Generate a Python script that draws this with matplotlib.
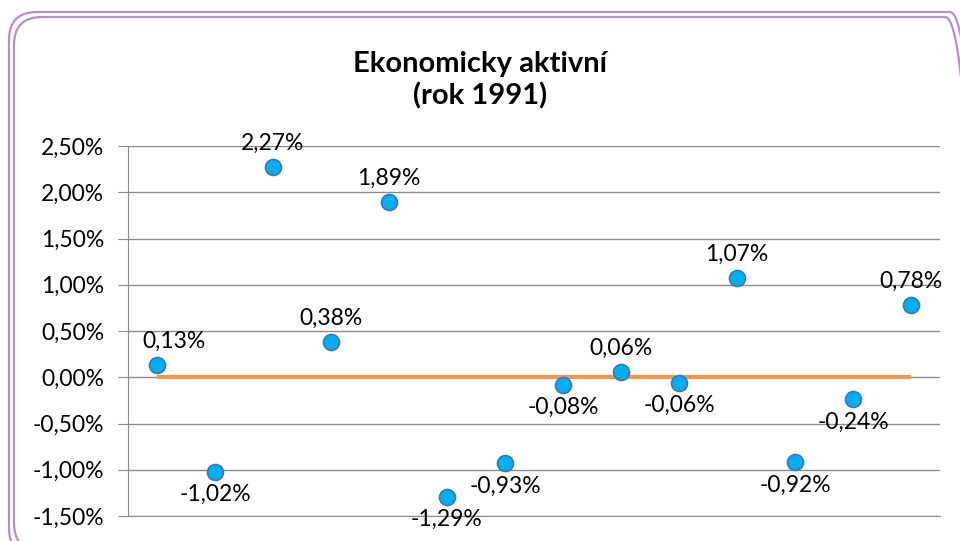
import matplotlib.pyplot as plt
from matplotlib.patches import FancyBboxPatch
from matplotlib.transforms import IdentityTransform
from matplotlib.ticker import FuncFormatter

# data
values = [0.13, -1.02, 2.27, 0.38, 1.89, -1.29, -0.93, -0.08, 0.06, -0.06, 1.07, -0.92, -0.24, 0.78]
baseline = [0.0] * len(values)
positions = list(range(1, len(values) + 1))
y_ticks = [-1.5, -1.0, -0.5, 0.0, 0.5, 1.0, 1.5, 2.0, 2.5]
title = "Ekonomicky aktivní\n(rok 1991)"

plt.rcParams['font.family'] = ['Lato', 'DejaVu Sans']

W, H = 960, 541
fig = plt.figure(figsize=(W / 100, H / 100), dpi=100)
ax = fig.add_axes([128 / W, 1 - 516 / H, (940 - 128) / W, (516 - 146) / H])

# double rounded frame, in pixels (runs off the bottom/right of the picture)
for x0, y0, x1, y1 in [(9, 12, 978, 556), (14, 17, 973, 551)]:
    box = FancyBboxPatch((x0, H - y1), x1 - x0, y1 - y0,
                         boxstyle="round,pad=0,rounding_size=28",
                         transform=IdentityTransform(), fill=False,
                         edgecolor='#B48FD0', linewidth=1.6)
    fig.patches.append(box)

ax.plot(positions, baseline, color='#F79646', linewidth=3, solid_capstyle='butt', zorder=2)
ax.plot(positions, values, linestyle='none', marker='o', markersize=11.5,
        markerfacecolor='#00B0F0', markeredgecolor='#3A78B5', markeredgewidth=1.2, zorder=3)

for x, v in zip(positions, values):
    lbl = f"{v:.2f}%".replace('.', ',')
    dx = 12 if x == 1 else 0
    if v >= 0:
        ax.annotate(lbl, (x, v), xytext=(dx, 9.5), textcoords='offset points',
                    ha='center', va='bottom', fontsize=16.5)
    else:
        ax.annotate(lbl, (x, v), xytext=(dx, -9), textcoords='offset points',
                    ha='center', va='top', fontsize=16.5)

ax.set_xlim(0.5, len(values) + 0.5)
ax.set_ylim(-1.5, 2.5)
ax.set_yticks(y_ticks)
ax.yaxis.set_major_formatter(FuncFormatter(lambda v, p: f"{v:.2f}%".replace('.', ',')))
ax.set_xticks([])
ax.grid(axis='y', color='#8C8C8C', linewidth=1)
ax.set_axisbelow(True)
for s in ['top', 'right']:
    ax.spines[s].set_visible(False)
ax.spines['left'].set_color('#8C8C8C')
ax.spines['bottom'].set_color('#8C8C8C')
ax.tick_params(axis='y', length=7, color='#8C8C8C', labelsize=16.5, pad=10)

fig.text(0.5, 1 - 80 / H, title, ha='center', va='center', fontsize=21,
         fontweight='bold', linespacing=1.25)

fig.savefig('out.png', dpi=100)
